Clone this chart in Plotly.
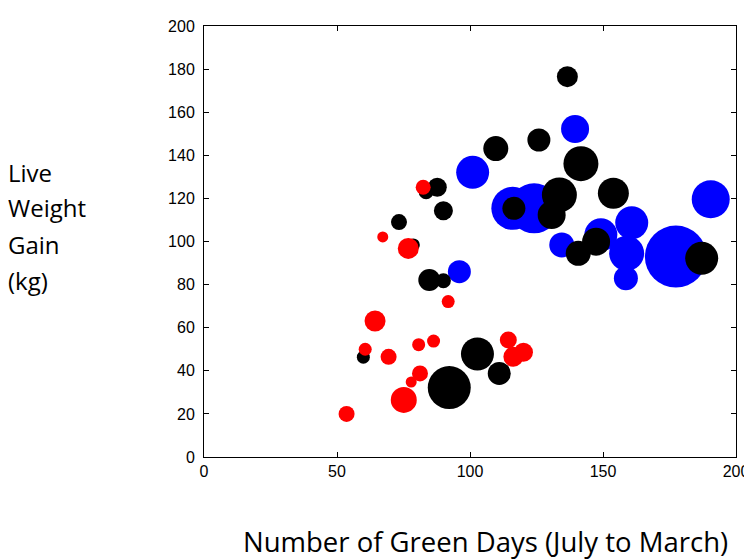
import plotly.graph_objects as go

# Blue group
blue_x = [101.0, 139.5, 116.1, 124.1, 160.8, 149.2, 134.5, 158.9, 158.6, 177.4, 190.5, 96.0]
blue_y = [132.1, 152.2, 115.4, 115.4, 108.7, 103.1, 98.4, 94.5, 82.9, 93.0, 119.6, 86.0]
blue_s = [33, 28, 43, 50, 33, 33, 25, 35, 24, 62, 38, 23]

# Black group
black_x = [136.6, 109.7, 125.9, 141.7, 116.5, 133.6, 130.7, 153.9, 147.4, 140.7, 187.1,
           87.7, 83.5, 90.0, 73.3, 78.7, 84.7, 90.0, 59.9, 102.8, 111.0, 92.2]
black_y = [176.5, 143.1, 147.1, 136.1, 115.4, 121.6, 112.3, 122.4, 99.9, 94.5, 92.2,
           125.2, 123.1, 114.3, 109.0, 98.4, 82.1, 81.8, 46.3, 47.8, 38.8, 32.2]
black_s = [21, 25, 23, 35, 23, 35, 28, 31, 28, 25, 33,
           19, 15, 19, 16, 13, 22, 15, 13, 33, 23, 43]

# Red group
red_x = [82.4, 67.2, 76.8, 91.8, 64.3, 60.6, 69.4, 80.7, 86.3, 81.2, 77.9, 75.1, 53.6,
         114.4, 116.3, 120.1]
red_y = [125.2, 102.1, 96.8, 72.1, 63.1, 50.0, 46.5, 52.1, 53.8, 38.8, 34.8, 26.5, 20.0,
         54.3, 46.5, 48.6]
red_s = [15, 11, 21, 13, 21, 13, 16, 13, 13, 16, 11, 26, 16, 17, 20, 19]

x_ticks = [0, 50, 100, 150, 200]
y_ticks = [0, 20, 40, 60, 80, 100, 120, 140, 160, 180, 200]
y_title_lines = ["Live", "Weight", "Gain", "(kg)"]
x_title = "Number of Green Days (July to March)"

# page body has an 8px margin; compensate so the plot lands where the reference has it
OFF = 8
W, H = 752 - OFF, 559 - OFF
L, T, R, B = 204 - OFF, 26 - OFF, 16, 102
PW, PH = W - L - R, H - T - B

def px_x(px):
    return (px - OFF - L) / PW

def px_y(py):
    return (H - B - (py - OFF)) / PH

fig = go.Figure()
for xs, ys, ss, col in [(blue_x, blue_y, blue_s, "#0000ff"),
                        (black_x, black_y, black_s, "#000000"),
                        (red_x, red_y, red_s, "#ff0000")]:
    fig.add_trace(go.Scatter(
        x=xs, y=ys, mode="markers",
        marker=dict(size=ss, sizemode="diameter", color=col, opacity=1,
                    line=dict(width=0)),
        showlegend=False, hoverinfo="skip"))

axis_common = dict(showline=True, linecolor="black", linewidth=1, mirror="ticks",
                   ticks="inside", ticklen=5, tickcolor="black", showgrid=False,
                   zeroline=False, automargin=False,
                   tickfont=dict(family="Liberation Sans, Arial", size=16, color="black"))

fig.update_xaxes(range=[0, 200], tickvals=x_ticks, ticktext=[str(v) for v in x_ticks],
                 ticklabelstandoff=0, **axis_common)
fig.update_yaxes(range=[0, 200], tickvals=y_ticks, ticktext=[str(v) for v in y_ticks],
                 ticklabelstandoff=5, **axis_common)

annotations = []
line_px = [172, 208, 245, 280]
for txt, py in zip(y_title_lines, line_px):
    annotations.append(dict(text=txt, xref="paper", yref="paper",
                            x=px_x(6), y=px_y(py),
                            xanchor="left", yanchor="middle", showarrow=False,
                            font=dict(family="Open Sans", size=24, color="black")))
annotations.append(dict(text=x_title, xref="paper", yref="paper",
                        x=px_x(485), y=px_y(541),
                        xanchor="center", yanchor="middle", showarrow=False,
                        font=dict(family="Open Sans", size=27.5, color="black")))

fig.update_layout(width=W, height=H,
                  margin=dict(l=L, r=R, t=T, b=B),
                  paper_bgcolor="white", plot_bgcolor="white",
                  annotations=annotations)

fig.write_html("out.html")
